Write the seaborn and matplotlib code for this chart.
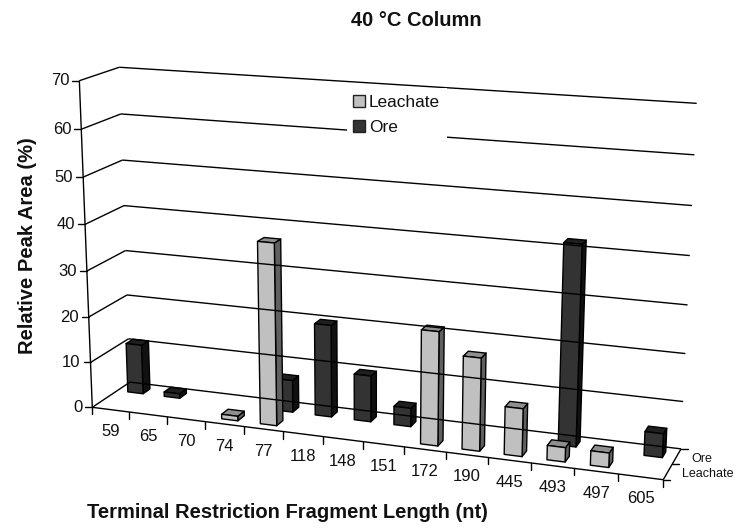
import numpy as np
import matplotlib
matplotlib.use("Agg")
import matplotlib.pyplot as plt
from matplotlib.patches import Patch
import seaborn as sns

# Datos
categories = ["59", "65", "70", "74", "77", "118", "148", "151", "172", "190", "445", "493", "497", "605"]
leachate = [0, 0, 0, 1, 39, 0, 0, 0, 24, 19.5, 10, 3, 3, 0]
ore = [11, 1, 0, 0, 7, 20, 10, 4, 0, 0, 0, 42, 0, 5]
series_names = ["Leachate", "Ore"]
value_ticks = [0, 10, 20, 30, 40, 50, 60, 70]
VALUE_MAX = 70

# Colores: frente, arriba, lado
LEACHATE_SHADES = ["#c0c0c0", "#8f8f8f", "#606060"]
ORE_SHADES = ["#333333", "#1f1f1f", "#111111"]

# Esquinas del panel 3D en pixeles (cat, prof, valor) -> (x, y)
PANEL = [
    ((0, 0, 0), (92.3, 407.7)),
    ((0, 0, 1), (79.3, 80.7)),
    ((0, 1, 0), (130.0, 381.7)),
    ((0, 1, 1), (119.3, 67.3)),
    ((1, 0, 0), (663.3, 479.3)),
    ((1, 1, 0), (681.0, 449.3)),
    ((1, 1, 1), (696.7, 103.3)),
]
BAR_W = 0.42
BAR_D = 0.19

sns.set_theme(style="white")
plt.rcParams["font.family"] = ["Liberation Sans", "DejaVu Sans"]
palette = sns.color_palette([LEACHATE_SHADES[0], ORE_SHADES[0]])


def fit_camera(points):
    rows = []
    for (u, v, w), (x, y) in points:
        p = [u, v, w, 1]
        rows.append(p + [0, 0, 0, 0] + [-x * c for c in p])
        rows.append([0, 0, 0, 0] + p + [-y * c for c in p])
    return np.linalg.svd(np.array(rows, dtype=float))[2][-1].reshape(3, 4)


CAM = fit_camera(PANEL)


def proj(cat, depth, value):
    h = CAM @ np.array([cat / len(categories), depth, value / VALUE_MAX, 1.0])
    return h[0] / h[2], h[1] / h[2]


def draw_bar(ax, i, center, value, shades):
    x0, x1 = i + 0.5 - BAR_W / 2, i + 0.5 + BAR_W / 2
    d0, d1 = center - BAR_D / 2, center + BAR_D / 2
    front = [proj(x0, d0, 0), proj(x1, d0, 0), proj(x1, d0, value), proj(x0, d0, value)]
    top = [proj(x0, d0, value), proj(x1, d0, value), proj(x1, d1, value), proj(x0, d1, value)]
    side = [proj(x1, d0, 0), proj(x1, d1, 0), proj(x1, d1, value), proj(x1, d0, value)]
    for face, color in zip([side, top, front], [shades[2], shades[1], shades[0]]):
        ax.fill(*zip(*face), facecolor=color, edgecolor="black", linewidth=1.0, joinstyle="round")


def line3d(ax, a, b):
    ax.plot(*zip(proj(*a), proj(*b)), color="black", linewidth=1.0, solid_capstyle="butt")


fig = plt.figure(figsize=(7.39, 5.29), dpi=100)
ax = fig.add_axes([0, 0, 1, 1])
ax.set_xlim(0, 739)
ax.set_ylim(529, 0)
ax.axis("off")

n = len(categories)

# Rejilla: pared lateral y pared del fondo
for v in value_ticks:
    line3d(ax, (0, 0, v), (0, 1, v))
    line3d(ax, (0, 1, v), (n, 1, v))

# Eje de valores
line3d(ax, (0, 0, 0), (0, 0, VALUE_MAX))
for v in value_ticks:
    x, y = proj(0, 0, v)
    ax.plot([x - 7, x], [y, y], color="black", linewidth=1.0)
    ax.text(x - 10, y, str(v), ha="right", va="center", fontsize=12, color="#111111")

# Piso
line3d(ax, (0, 0, 0), (n, 0, 0))
line3d(ax, (n, 0, 0), (n, 1, 0))
for i in range(n + 1):
    x, y = proj(i, 0, 0)
    ax.plot([x, x], [y, y + 7], color="black", linewidth=1.0)
for i, cat in enumerate(categories):
    x, y = proj(i + 0.5, 0, 0)
    ax.text(x, y + 22, cat, ha="center", va="center", fontsize=12, color="#111111")

# Eje de series
for d in [0, 0.5, 1]:
    x, y = proj(n, d, 0)
    ax.plot([x, x + 7], [y, y], color="black", linewidth=1.0)
for d, name, dx, dy in [(0.75, "Ore", 15, 2.5), (0.25, "Leachate", 14, 2)]:
    x, y = proj(n, d, 0)
    ax.text(x + dx, y + dy, name, ha="left", va="center", fontsize=9, color="#111111")

# Barras, de atras hacia adelante
for i, v in enumerate(ore):
    if v > 0:
        draw_bar(ax, i, 0.75, v, ORE_SHADES)
for i, v in enumerate(leachate):
    if v > 0:
        draw_bar(ax, i, 0.25, v, LEACHATE_SHADES)

handles = [Patch(facecolor=c, edgecolor="#222222", linewidth=1.0) for c in palette]
leg = ax.legend(
    handles, series_names, loc="upper left", bbox_to_anchor=(346.5, 88), bbox_transform=ax.transData,
    frameon=True, facecolor="white", edgecolor="none", fancybox=False, framealpha=1,
    fontsize=12.4, handlelength=0.7, handleheight=0.7, handletextpad=0.2,
    labelspacing=0.6, borderpad=0.4, borderaxespad=0,
)
for t in leg.get_texts():
    t.set_color("#111111")

ax.text(416, 20, "40 °C Column", ha="center", va="center", fontsize=14.5, fontweight="bold", color="#111111")
ax.text(287, 512, "Terminal Restriction Fragment Length (nt)", ha="center", va="center", fontsize=14.5, fontweight="bold", color="#111111")
ax.text(28, 245.5, "Relative Peak Area (%)", ha="center", va="center", rotation=90, fontsize=14.5, fontweight="bold", color="#111111")

plt.savefig("out.png", dpi=100)
plt.close()
